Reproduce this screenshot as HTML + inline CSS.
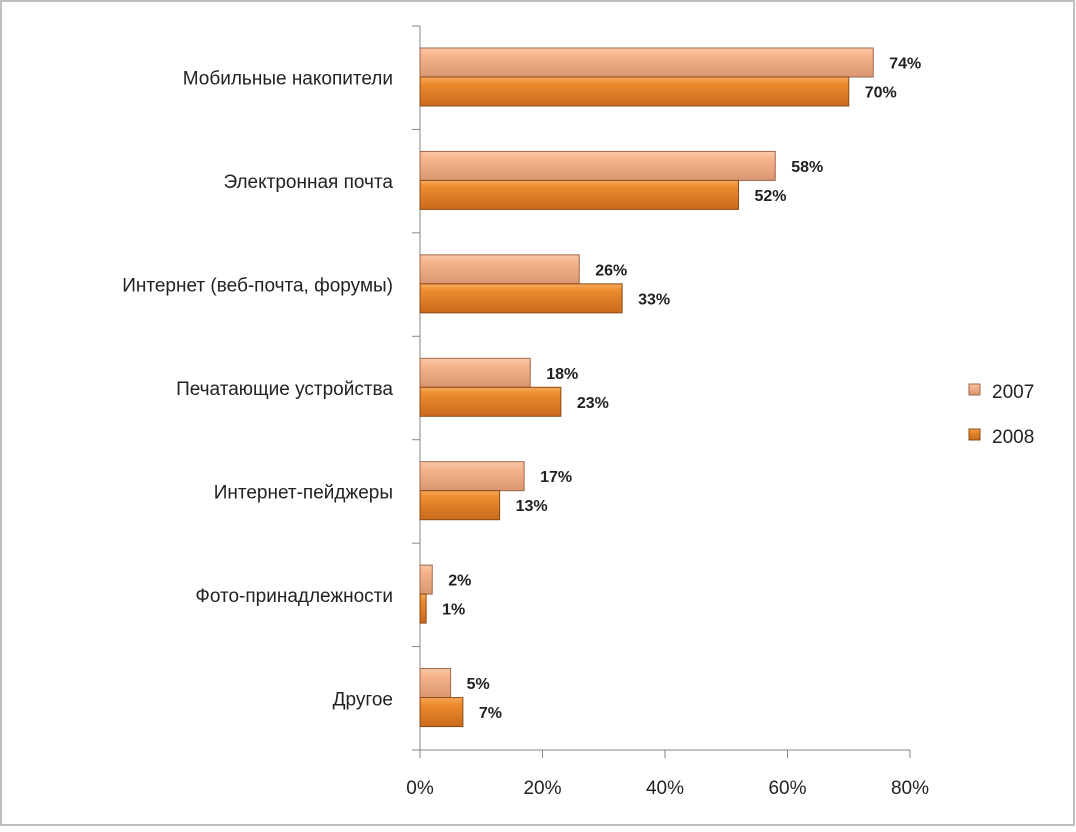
<!DOCTYPE html>
<html><head><meta charset="utf-8"><style>
body{margin:0;background:#fff;}
svg text{font-family:"Liberation Sans","DejaVu Sans",sans-serif;}
</style></head><body>
<svg width="1076" height="827" xmlns="http://www.w3.org/2000/svg">
<defs>
<linearGradient id="g07" x1="0" y1="0" x2="0" y2="1">
<stop offset="0" stop-color="#f9c9a8"/><stop offset="0.25" stop-color="#f6b48c"/><stop offset="1" stop-color="#d99670"/></linearGradient>
<linearGradient id="g08" x1="0" y1="0" x2="0" y2="1">
<stop offset="0" stop-color="#f7a95a"/><stop offset="0.25" stop-color="#ec8a2e"/><stop offset="1" stop-color="#c96a1e"/></linearGradient>
</defs>
<rect x="1" y="1" width="1073" height="824" fill="#fff" stroke="#bfbfbf" stroke-width="2"/>
<g id="plot"></g>
<g>
<rect x="969" y="384" width="11" height="11" fill="url(#g07)" stroke="#a0664a"/>
<text x="992" y="398" font-size="19" fill="#222">2007</text>
<rect x="969" y="429" width="11" height="11" fill="url(#g08)" stroke="#8a4b15"/>
<text x="992" y="443" font-size="19" fill="#222">2008</text>
</g>
</svg>
<script>
const categories=["Мобильные накопители","Электронная почта","Интернет (веб-почта, форумы)","Печатающие устройства","Интернет-пейджеры","Фото-принадлежности","Другое"];
const values2007=[74,58,26,18,17,2,5];
const values2008=[70,52,33,23,13,1,7];
const tickLabels=["0%","20%","40%","60%","80%"];
const tickValues=[0,20,40,60,80];
const NS="http://www.w3.org/2000/svg";
const g=document.getElementById('plot');
const x0=420,x1=910,yTop=26,yBot=750,maxV=80;
const xs=v=>x0+v/maxV*(x1-x0);
const band=(yBot-yTop)/categories.length;
function mk(t,a){const e=document.createElementNS(NS,t);for(const k in a)e.setAttribute(k,a[k]);g.appendChild(e);return e;}
// axes
let ax=mk('line',{x1:x0,y1:yTop,x2:x0,y2:yBot,stroke:'#868686'});


let bx=mk('line',{x1:x0-8,y1:yBot,x2:x1,y2:yBot,stroke:'#868686'});


for(let i=0;i<=categories.length;i++){const y=yTop+i*band;const t=mk('line',{x1:x0-8,y1:y,x2:x0,y2:y,stroke:'#868686'});

}
tickValues.forEach((v,i)=>{const x=xs(v);const t=mk('line',{x1:x,y1:yBot,x2:x,y2:yBot+8,stroke:'#868686'});


const l=mk('text',{x:x,y:yBot+44,'font-size':19,'text-anchor':'middle',fill:'#222'});l.textContent=tickLabels[i];

});
const bh=29;
categories.forEach((c,i)=>{
 const by=yTop+i*band;
 const lab=mk('text',{x:393,y:by+band/2+7,'font-size':19,'text-anchor':'end',fill:'#222'});lab.textContent=c;
 
 
 [[values2007,'url(#g07)','#a0664a',22,'2007'],[values2008,'url(#g08)','#8a4b15',22+bh,'2008']].forEach(([arr,fill,st,off,yr])=>{
  const v=arr[i];const y=by+off;
  const r=mk('rect',{x:x0,y:y,width:xs(v)-x0,height:bh,fill:fill,stroke:st,'stroke-width':1});
  
  
  const t=mk('text',{x:xs(v)+16,y:y+bh/2+6,'font-size':16,fill:'#222','font-weight':'bold'});t.textContent=v+'%';
  
  
 });
});
</script>
</body></html>
